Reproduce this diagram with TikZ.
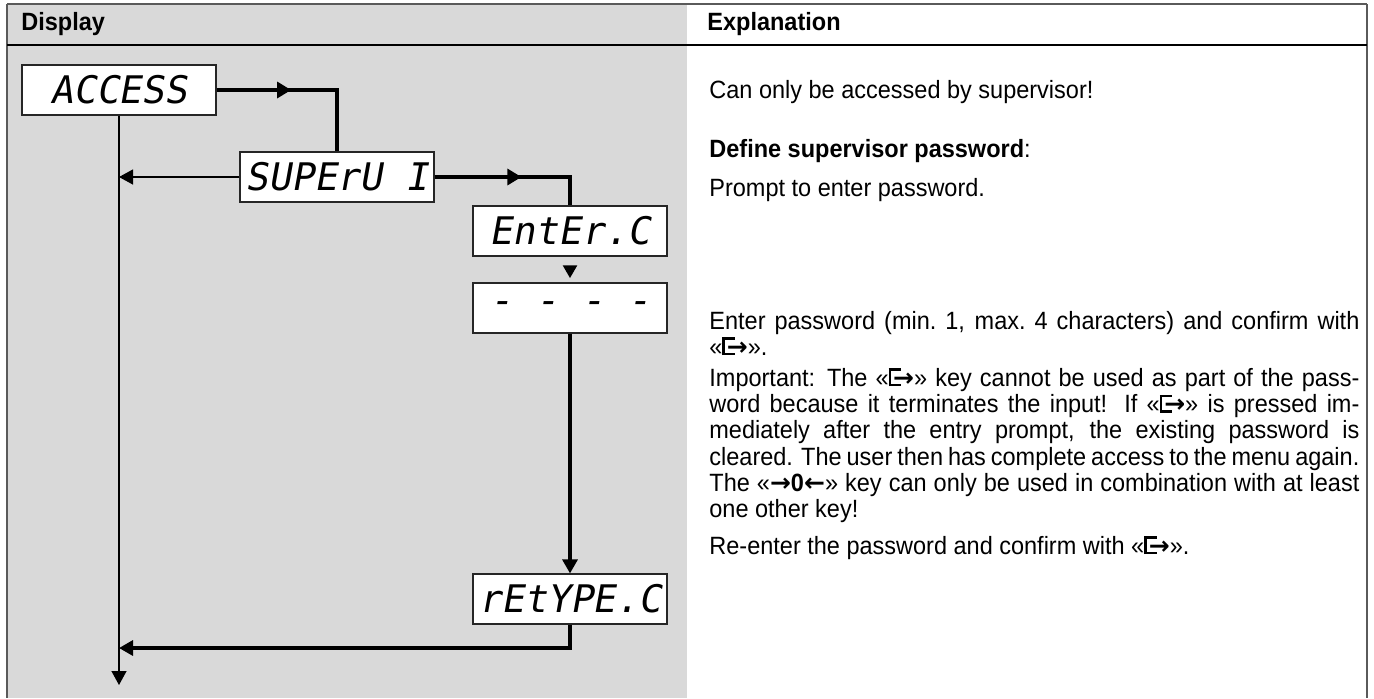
\documentclass[tikz,border=0pt]{standalone}
\usepackage{fontspec}
\setmainfont{Liberation Sans}[FakeStretch=0.94]
\newfontfamily\lcdfont{DejaVu Sans Mono}[FakeSlant=0.18]
\newfontfamily\symfont{DejaVu Sans}
\usetikzlibrary{arrows.meta,decorations.markings,shapes.geometric}

\definecolor{panelgray}{RGB}{217,217,217}
\definecolor{rulegray}{RGB}{90,90,90}

\newcommand{\bodyfont}{\fontsize{12.5}{13.1}\selectfont}
\newcommand{\lcd}{\lcdfont\fontsize{19}{19}\selectfont}
% key symbols
\newcommand{\enterkey}{\mbox{\rule{0.1em}{0.72em}\kern-0.1em\rule[0.62em]{0.5em}{0.1em}\kern-0.5em\rule{0.5em}{0.1em}\kern-0.32em{\symfont\bfseries →}}}
\newcommand{\keyzero}{{\symfont\bfseries →}\textbf{0}{\symfont\bfseries ←}}
\newcommand{\jl}[1]{\hbox to 325pt{#1}}

\begin{document}
\begin{tikzpicture}[x=0.5pt,y=0.5pt,yscale=-1,
	disp/.style={draw=black!85, fill=white, line width=0.6pt, minimum width=97pt, minimum height=25pt, inner sep=0pt, font=\lcd},
	flow/.style={line width=1.6pt},
	thinflow/.style={line width=0.6pt},
	endtip/.style={-{Triangle[length=7pt,width=7.5pt]}},
	arrowat/.style={postaction={decorate}, decoration={markings, mark=at position #1 with {\arrow{Triangle[length=7pt,width=8pt]}}}},
	downtri/.style={regular polygon, regular polygon sides=3, shape border rotate=180, fill=black, draw=none, inner sep=0pt, minimum size=8.5pt},
	head/.style={anchor=base west, inner sep=0pt, font=\bodyfont\bfseries},
	expl/.style={anchor=base west, inner sep=0pt, font=\bodyfont}]
	\useasboundingbox (0,0) rectangle (1374,698);

	% Table frame
	\fill [panelgray] (7,4) rectangle (687,698);
	\draw [rulegray, line width=0.8pt] (7,4) -- (1367,4);
	\draw [rulegray, line width=1.2pt] (7,4) -- (7,698);
	\draw [rulegray, line width=1.2pt] (1367,4) -- (1367,698);
	\draw [black, line width=0.9pt] (7,45) -- (1367,45);

	% Headings
	\node [head] (hdisp) at (21,30) {Display};
	\node [head] (hexpl) at (707,30) {Explanation};

	% Displays
	\node [disp] (access) at (119,90) {ACCESS};
	\node [disp] (superv) at (337,177) {SUPErU I};
	\node [disp] (enter) at (570,231) {EntEr.C};
	\node [disp] (dashes) at (570,308) {- - - -};
	\node [disp] (retype) at (570,599) {rEtYPE.C};

	\coordinate (backy) at (0,648);
	\coordinate (endy) at (0,685);

	% Connection
	\draw [flow, arrowat=0.41] (access.east) -| (superv.north);
	% Connection
	\draw [flow, arrowat=0.53] (superv.east) -| (enter.north);
	% Connection
	\draw [thinflow, endtip] (superv.west) -- (superv.west -| access.south);
	% Connection
	\path (enter.south) -- (dashes.north) node [midway, downtri] (step1) {};
	% Connection
	\draw [flow, endtip] (dashes.south) -- (retype.north);
	% Connection
	\draw [flow, endtip] (retype.south) |- (access.south |- backy);
	% Connection
	\draw [thinflow, endtip] (access.south) -- (access.south |- endy);

	% Text Node
	\node [expl] (txt1) at (709,98) {Can only be accessed by supervisor!};
	% Text Node
	\node [expl] (txt2) at (709,157) {\textbf{Define supervisor password}:};
	% Text Node
	\node [expl] (txt3) at (709,196) {Prompt to enter password.};
	% Text Node
	\node [expl] (txt4) at (709,329) {\vtop{%
		\jl{Enter password (min.\ 1, max.\ 4 characters) and confirm with}
		\hbox{«\enterkey».}
		\vskip 2.5pt
		\jl{Important: The «\enterkey» key cannot be used as part of the pass-}
		\jl{word because it terminates the input! If «\enterkey» is pressed im-}
		\jl{mediately after the entry prompt, the existing password is}
		\jl{cleared. The user then has complete access to the menu again.}
		\jl{The «\keyzero» key can only be used in combination with at least}
		\hbox{one other key!}}};
	% Text Node
	\node [expl] (txt5) at (709,554) {Re-enter the password and confirm with «\enterkey».};
\end{tikzpicture}
\end{document}
